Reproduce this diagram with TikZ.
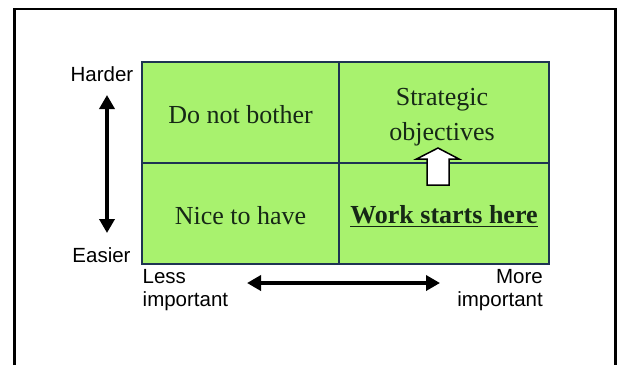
\documentclass[tikz,border=0pt]{standalone}
\usepackage{fontspec}
\setmainfont{Liberation Serif}
\setsansfont{Liberation Sans}
\usetikzlibrary{arrows.meta}
\definecolor{quadgreen}{RGB}{168,242,110}
\definecolor{gridblue}{RGB}{30,52,82}
\definecolor{quadtext}{RGB}{22,40,22}
\begin{document}
\begin{tikzpicture}[x=1pt,y=-1pt,
  quad/.style={draw=gridblue, line width=2pt, fill=quadgreen, inner sep=0pt, minimum height=101pt},
  qtext/.style={font=\fontsize{26}{30}\selectfont, text=quadtext, inner sep=0pt, anchor=base},
  axlabel/.style={font=\sffamily\fontsize{20.5}{24}\selectfont, inner sep=0pt},
  bigarrow/.style={line width=4.5pt, {Triangle[width=15pt,length=14pt]}-{Triangle[width=15pt,length=14pt]}},
  uparrow/.style={draw=black, line width=1.5pt, fill=white, line join=miter}]
\useasboundingbox (0,0) rectangle (617,365);
% outer frame
\draw[line width=2.5pt] (14.5,365) -- (14.5,9) -- (615.5,9) -- (615.5,365);
% quadrants
\node[quad, minimum width=197pt] (q1) at (240.5,112.5) {};
\node[quad, minimum width=210pt] (q2) at (444,112.5) {};
\node[quad, minimum width=197pt] (q3) at (240.5,213.5) {};
\node[quad, minimum width=210pt] (q4) at (444,213.5) {};
% quadrant texts
\node[qtext] (t1) at (240.5,123) {Do not bother};
\node[qtext] (t2a) at (442,105) {Strategic};
\node[qtext] (t2b) at (442,140) {objectives};
\node[qtext] (t3) at (240.5,224) {Nice to have};
\node[qtext, font=\fontsize{26}{30}\selectfont\bfseries] (t4) at (444,223) {Work starts here};
\draw[line width=1.8pt, quadtext] ([yshift=-3.5pt]t4.base west) -- ([yshift=-3.5pt]t4.base east);
% white up arrow
\coordinate (ua) at (438,185);
\draw[uparrow] ([xshift=-11pt]ua) -- ++(0,-26) -- ++(-10.5,0) -- (438,148) -- (459,159) -- ++(-10,0) -- ([xshift=11pt]ua) -- cycle;
% axis labels
\node[axlabel, anchor=base] (harder) at (102,81) {Harder};
\node[axlabel, anchor=base] (easier) at (101.5,262) {Easier};
\node[axlabel, anchor=base west] (less1) at (142.5,283) {Less};
\node[axlabel, anchor=base west] (less2) at (142.5,306) {important};
\node[axlabel, anchor=base east] (more1) at (543,283) {More};
\node[axlabel, anchor=base east] (more2) at (543,306) {important};
% axis arrows
\coordinate (vtop) at (107,95);
\coordinate (vbot) at (107,233);
\draw[bigarrow] (vtop) -- (vbot);
\coordinate (hleft) at (247,283);
\coordinate (hright) at (440,283);
\draw[bigarrow] (hleft) -- (hright);
\end{tikzpicture}
\end{document}
